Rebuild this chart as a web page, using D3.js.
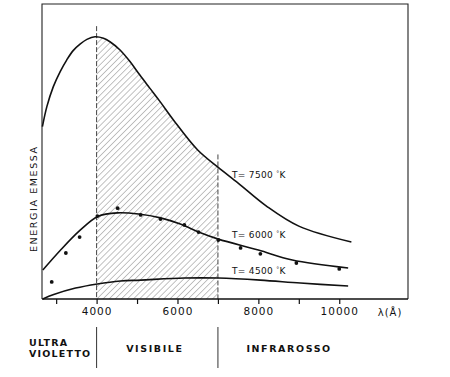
<!DOCTYPE html>
<html>
<head>
<meta charset="utf-8">
<script src="https://cdn.jsdelivr.net/npm/d3@7"></script>
<style>
    body { margin: 0; background: #fff; }
    svg text { font-family: "DejaVu Sans", sans-serif; fill: #111; }
</style>
</head>
<body>
<div id="chart"></div>
<script>
// wavelength in Angstrom, emitted energy in arbitrary units (axis = 0, frame top = 100)
var lambda7500 = [2660, 2770, 2930, 3100, 3260, 3420, 3590, 3760, 3960, 4170, 4330, 4580, 4830, 5070, 5320, 5570, 5900, 6500, 7000, 7500, 8200, 9000, 10300];
var energy7500 = [58.4, 65.2, 72.0, 77.1, 81.0, 84.2, 86.4, 88.0, 88.9, 88.4, 87.2, 84.4, 80.4, 75.9, 71.4, 66.9, 60.7, 50.5, 44.7, 39.3, 31.5, 24.7, 19.3];

var lambda6000 = [2670, 3110, 3600, 4030, 4520, 5040, 5580, 6070, 6520, 7010, 8000, 8840, 10220];
var energy6000 = [9.8, 16.6, 23.4, 28.0, 29.2, 28.8, 27.5, 25.4, 22.7, 20.3, 16.6, 13.2, 10.5];

var lambda4500 = [2670, 2940, 3480, 4020, 4590, 5090, 6170, 7010, 8050, 9040, 10220];
var energy4500 = [0, 1.5, 3.7, 5.1, 6.1, 6.4, 7.1, 7.1, 6.4, 5.4, 4.4];

// measured points (T = 6000 K)
var dotLambda = [2890, 3240, 3580, 4020, 4520, 5090, 5580, 6170, 6520, 7010, 7560, 8050, 8940, 10000];
var dotEnergy = [5.8, 15.6, 21.0, 28.1, 30.8, 28.5, 27.1, 25.1, 22.7, 20.0, 17.3, 15.3, 12.2, 10.2];

var curveNames = ["T= 7500", "T= 6000", "T= 4500"];
var labelLambda = [7350, 7350, 7350];
var labelEnergy = [41, 20.6, 8.4];

var tickValues = [3000, 4000, 5000, 6000, 7000, 8000, 9000, 10000];
var tickLabels = [4000, 6000, 8000, 10000];

// visible band limits and the dashed marks that go with them
var bandLimits = [4000, 7000];
var bandTops = [92.5, 49];
var bandNames = [["ULTRA", "VIOLETTO"], ["VISIBILE"], ["INFRAROSSO"]];
var bandCenters = [3250, 5440, 8760];

var width = 450, height = 377;
var frame = { left: 42, right: 408, top: 4, bottom: 299 };

var svg = d3.select("#chart").append("svg")
    .attr("width", width)
    .attr("height", height);

var x = d3.scaleLinear().domain([2650, 11700]).range([frame.left, frame.right]);
var y = d3.scaleLinear().domain([0, 100]).range([frame.bottom, frame.top]);

function toPoints(lx, ly) {
    return lx.map(function (d, i) { return [d, ly[i]]; });
}

// hatch pattern for the visible band
var defs = svg.append("defs");
defs.append("pattern")
    .attr("id", "hatch")
    .attr("patternUnits", "userSpaceOnUse")
    .attr("width", 4.3)
    .attr("height", 4.3)
    .attr("patternTransform", "rotate(45)")
    .append("line")
    .attr("x1", 0).attr("y1", 0)
    .attr("x2", 0).attr("y2", 4.3)
    .attr("stroke", "#777")
    .attr("stroke-width", 0.9);

defs.append("clipPath")
    .attr("id", "visClip")
    .append("rect")
    .attr("x", x(bandLimits[0]))
    .attr("y", frame.top)
    .attr("width", x(bandLimits[1]) - x(bandLimits[0]))
    .attr("height", frame.bottom - frame.top);

var pts7500 = toPoints(lambda7500, energy7500);
var curve = d3.curveCatmullRom.alpha(0.5);

var area = d3.area()
    .x(function (d) { return x(d[0]); })
    .y0(y(0))
    .y1(function (d) { return y(d[1]); })
    .curve(curve);

svg.append("path")
    .datum(pts7500)
    .attr("d", area)
    .attr("fill", "url(#hatch)")
    .attr("clip-path", "url(#visClip)");

// dashed band borders
svg.selectAll(".bandDash")
    .data(bandLimits)
    .enter()
    .append("line")
    .attr("class", "bandDash")
    .attr("x1", function (d) { return x(d); })
    .attr("x2", function (d) { return x(d); })
    .attr("y1", function (d, i) { return y(bandTops[i]); })
    .attr("y2", y(0))
    .attr("stroke", "#444")
    .attr("stroke-width", 1)
    .attr("stroke-dasharray", "5,2");

// frame
svg.append("path")
    .attr("d", "M" + frame.left + "," + frame.bottom + "V" + frame.top + "H" + frame.right + "V" + frame.bottom)
    .attr("fill", "none")
    .attr("stroke", "#222")
    .attr("stroke-width", 1.1);

// x axis
var xAxis = d3.axisBottom(x)
    .tickValues(tickValues)
    .tickSize(5)
    .tickFormat(function (d) { return tickLabels.indexOf(d) >= 0 ? d : ""; });

var gx = svg.append("g")
    .attr("transform", "translate(0," + frame.bottom + ")")
    .call(xAxis);
gx.select(".domain")
    .attr("d", "M" + frame.left + ",0H" + frame.right)
    .attr("stroke", "#111")
    .attr("stroke-width", 1.6);
gx.selectAll(".tick line").attr("stroke", "#111").attr("stroke-width", 1.2);
gx.selectAll(".tick text")
    .attr("y", 9)
    .style("font-family", "'DejaVu Sans', sans-serif")
    .style("font-size", "10.5px")
    .style("letter-spacing", "1px")
    .attr("fill", "#111");

svg.append("text")
    .attr("x", 390)
    .attr("y", 316)
    .attr("text-anchor", "middle")
    .style("font-size", "10px")
    .style("letter-spacing", "1px")
    .text("λ(Å)");

// curves
var line = d3.line()
    .x(function (d) { return x(d[0]); })
    .y(function (d) { return y(d[1]); })
    .curve(curve);

var allCurves = [pts7500, toPoints(lambda6000, energy6000), toPoints(lambda4500, energy4500)];

svg.selectAll(".curve")
    .data(allCurves)
    .enter()
    .append("path")
    .attr("class", "curve")
    .attr("d", line)
    .attr("fill", "none")
    .attr("stroke", "#111")
    .attr("stroke-width", 1.6);

// measured dots
svg.selectAll(".dot")
    .data(toPoints(dotLambda, dotEnergy))
    .enter()
    .append("circle")
    .attr("class", "dot")
    .attr("cx", function (d) { return x(d[0]); })
    .attr("cy", function (d) { return y(d[1]); })
    .attr("r", 1.9)
    .attr("fill", "#111");

// curve labels
var labels = svg.selectAll(".tLabel")
    .data(curveNames)
    .enter()
    .append("text")
    .attr("class", "tLabel")
    .attr("x", function (d, i) { return x(labelLambda[i]); })
    .attr("y", function (d, i) { return y(labelEnergy[i]); })
    .style("font-size", "9px")
    .style("letter-spacing", "0.3px");
labels.append("tspan").text(function (d) { return d + " "; });
labels.append("tspan").attr("dy", -3).style("font-size", "6px").text("°");
labels.append("tspan").attr("dy", 3).text("K");

// y label
svg.append("text")
    .attr("transform", "translate(37," + (y(34)) + ") rotate(-90)")
    .attr("text-anchor", "middle")
    .style("font-size", "9.5px")
    .style("letter-spacing", "1.6px")
    .text("ENERGIA EMESSA");

// spectral bands under the axis
svg.selectAll(".bandLine")
    .data(bandLimits)
    .enter()
    .append("line")
    .attr("class", "bandLine")
    .attr("x1", function (d) { return x(d); })
    .attr("x2", function (d) { return x(d); })
    .attr("y1", 327)
    .attr("y2", 368)
    .attr("stroke", "#333")
    .attr("stroke-width", 1);

var bandText = svg.selectAll(".bandName")
    .data(bandNames)
    .enter()
    .append("text")
    .attr("class", "bandName")
    .attr("x", function (d, i) { return i == 0 ? 29 : x(bandCenters[i]); })
    .attr("y", function (d) { return d.length > 1 ? 346 : 352; })
    .attr("text-anchor", function (d, i) { return i == 0 ? "start" : "middle"; })
    .style("font-size", "9.5px")
    .style("font-weight", "bold")
    .style("letter-spacing", function (d) { return d.length > 1 ? "1.2px" : "1.6px"; });
bandText.selectAll("tspan")
    .data(function (d) { return d; })
    .enter()
    .append("tspan")
    .attr("x", function () { return d3.select(this.parentNode).attr("x"); })
    .attr("dy", function (d, i) { return i == 0 ? 0 : 11; })
    .text(function (d) { return d; });
</script>
</body>
</html>
